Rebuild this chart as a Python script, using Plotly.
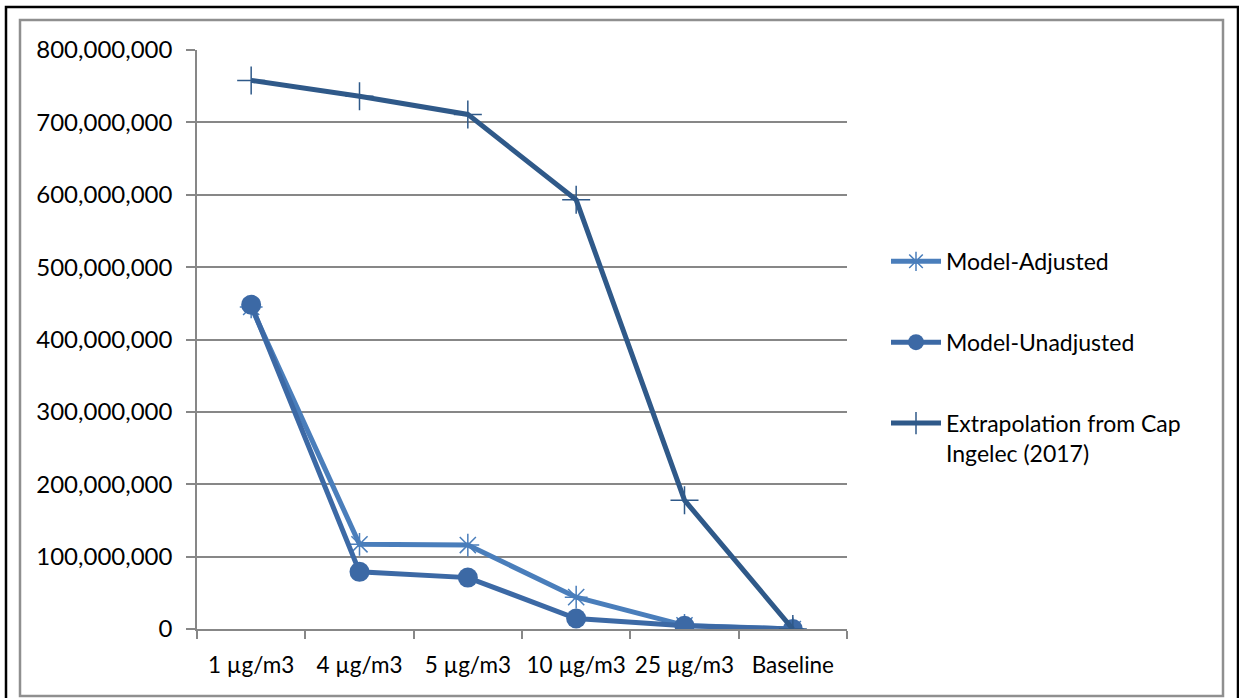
import plotly.graph_objects as go

# Concentration scenarios on the category axis
categories = ["1 µg/m3", "4 µg/m3", "5 µg/m3", "10 µg/m3", "25 µg/m3", "Baseline"]

# Series values
model_adjusted = [445_000_000, 117_000_000, 116_000_000, 44_000_000, 5_000_000, 0]
model_unadjusted = [448_000_000, 79_000_000, 71_000_000, 14_500_000, 4_500_000, 0]
extrapolation_cap_ingelec = [758_000_000, 736_000_000, 711_000_000, 593_000_000, 178_000_000, 0]

y_ticks = [0, 100_000_000, 200_000_000, 300_000_000, 400_000_000,
           500_000_000, 600_000_000, 700_000_000, 800_000_000]

W, H = 1239, 698
L, R, T, B = 197, 847, 50, 629.5  # plot area in pixels

FONT = "Lato"
GRID = "#878787"


def px_x(p):
    return (p - L) / (R - L)


def px_y(p):
    return (B - p) / (B - T)


fig = go.Figure()

fig.add_trace(go.Scatter(
    x=categories, y=model_adjusted, name="Model-Adjusted",
    legendgroup="adj",
    mode="lines+markers",
    line=dict(color="#4a7ebb", width=5),
    marker=dict(symbol="asterisk-open", size=19,
                line=dict(color="#4a7ebb", width=1.5)),
))
fig.add_trace(go.Scatter(
    x=categories, y=model_unadjusted, name="Model-Unadjusted",
    legendgroup="unadj",
    mode="lines+markers",
    line=dict(color="#3c69a5", width=5),
    marker=dict(symbol="circle", size=20, color="#3c69a5"),
))
fig.add_trace(go.Scatter(
    x=categories, y=extrapolation_cap_ingelec,
    name="Extrapolation from Cap<br>Ingelec (2017)",
    legendgroup="extrap",
    mode="lines+markers",
    line=dict(color="#2f5989", width=5),
    marker=dict(symbol="cross-thin-open", size=20,
                line=dict(color="#2f5989", width=1.5)),
))

# Outer black frame and inner grey chart border
shapes = [
    dict(type="rect", xref="paper", yref="paper",
         x0=px_x(6), x1=px_x(1238), y0=px_y(710), y1=px_y(7),
         line=dict(color="black", width=2.5), fillcolor="rgba(0,0,0,0)"),
    dict(type="rect", xref="paper", yref="paper",
         x0=px_x(20), x1=px_x(1223), y0=px_y(696.5), y1=px_y(20),
         line=dict(color="#8f8f8f", width=2.5), fillcolor="rgba(0,0,0,0)"),
]

fig.update_layout(
    width=W, height=H,
    margin=dict(l=L, r=W - R, t=T, b=H - B, pad=0, autoexpand=False),
    paper_bgcolor="white", plot_bgcolor="white",
    font=dict(family=FONT, size=23, color="black"),
    showlegend=True,
    legend=dict(
        x=px_x(886), y=px_y(240), xanchor="left", yanchor="top",
        font=dict(family=FONT, size=23, color="black"),
        tracegroupgap=48, valign="top",
        bgcolor="rgba(0,0,0,0)", itemwidth=50,
    ),
    shapes=shapes,
    xaxis=dict(
        type="category", range=[-0.5, 5.5], automargin=False,
        showgrid=False, showline=True, linecolor=GRID, linewidth=1.5,
        ticks="outside", tickson="boundaries", ticklen=8,
        tickcolor=GRID, tickwidth=1.5, tickangle=0,
        ticklabelstandoff=15,
        tickfont=dict(family=FONT, size=22.5),
        zeroline=False, fixedrange=True,
    ),
    yaxis=dict(
        range=[0, 800_000_000], tickvals=y_ticks, tickformat=",d",
        automargin=False,
        showgrid=True, gridcolor=GRID, gridwidth=1.5,
        showline=True, linecolor=GRID, linewidth=1.5,
        ticks="outside", ticklen=9, tickcolor=GRID, tickwidth=1.5,
        ticklabelstandoff=9,
        tickfont=dict(family=FONT, size=24),
        zeroline=False, fixedrange=True,
    ),
)

fig.write_html("out.html")
